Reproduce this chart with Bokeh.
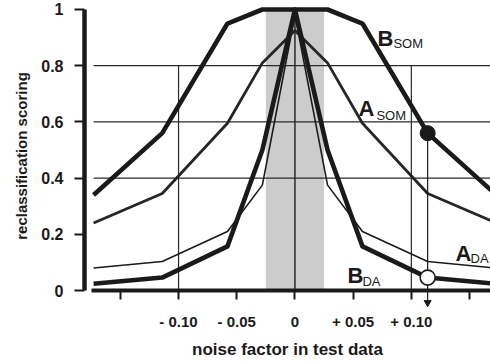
from bokeh.plotting import figure
from bokeh.models import Range1d, FixedTicker, LinearAxis
from bokeh.embed import file_html
from bokeh.resources import INLINE
from bokeh.core.properties import value

# ---- data ----
noise = [-0.173, -0.114, -0.058, -0.028, 0.0, 0.028, 0.058, 0.114, 0.173]
b_som = [0.34, 0.56, 0.95, 1.0, 1.0, 1.0, 0.95, 0.56, 0.34]
a_som = [0.24, 0.345, 0.595, 0.81, 0.925, 0.81, 0.595, 0.345, 0.24]
a_da = [0.08, 0.103, 0.21, 0.375, 0.98, 0.375, 0.21, 0.103, 0.08]
b_da = [0.024, 0.046, 0.157, 0.5, 1.0, 0.5, 0.157, 0.046, 0.024]

test_index = 7  # highlighted test point (noise = +0.114)

x_ticks = [-0.15, -0.10, -0.05, 0.0, 0.05, 0.10, 0.15]
x_tick_labels = ["", "- 0.10", "- 0.05", "0", "+ 0.05", "+ 0.10", ""]
y_ticks = [0.0, 0.2, 0.4, 0.6, 0.8, 1.0]
y_tick_labels = ["0", "0.2", "0.4", "0.6", "0.8", "1"]

hgrid_y = [0.4, 0.6, 0.8]
vgrid_x = [-0.10, 0.10]
vgrid_top = 0.8
band = (-0.025, 0.025)

INK = "#1a1a1a"
FONT = "Liberation Sans"

p = figure(width=490, height=361,
           x_range=Range1d(-0.1808, 0.1680), y_range=Range1d(-0.0747, 1.032),
           output_backend="svg", toolbar_location=None,
           x_axis_location=None, y_axis_location=None,
           min_border_left=84, min_border_right=0, min_border_top=0, min_border_bottom=50)
p.outline_line_color = None
p.background_fill_color = "white"
p.border_fill_color = "white"
for g in p.grid:
    g.visible = False

# shaded band around zero
p.quad(left=[band[0]], right=[band[1]], bottom=[0], top=[1.0],
       fill_color="#cccccc", line_color=None)

# grid lines
x_left = noise[0]
p.segment(x0=[x_left] * len(hgrid_y), y0=hgrid_y, x1=[0.2] * len(hgrid_y), y1=hgrid_y,
          line_color="#2a2a2a", line_width=1.2)
p.segment(x0=vgrid_x, y0=[0] * len(vgrid_x), x1=vgrid_x, y1=[vgrid_top] * len(vgrid_x),
          line_color="#2a2a2a", line_width=1.2)
p.segment(x0=[0], y0=[0], x1=[0], y1=[1.0], line_color="#2a2a2a", line_width=1.5)

# curves
p.line(noise, a_da, line_width=1.6, line_color=INK, line_join="round")
p.line(noise, a_som, line_width=2.8, line_color="#262626", line_join="round")
p.line(noise, b_som, line_width=4.6, line_color=INK, line_join="round")
p.line(noise, b_da, line_width=4.6, line_color=INK, line_join="round")

# test point marker with arrow to the axis
tx = noise[test_index]
arrow_tip = -0.043
p.segment(x0=[tx], y0=[b_som[test_index]], x1=[tx], y1=[arrow_tip], line_color=INK, line_width=1.2)
p.scatter([tx], [arrow_tip], marker="inverted_triangle", size=7, color=INK)
p.scatter([tx], [b_som[test_index]], size=15, color=INK)
p.scatter([tx], [b_da[test_index]], size=15, fill_color="white", line_color=INK, line_width=1.6)

# series labels (main letter + subscript)
main_labels = {"x": [0.0709, 0.0546, 0.0451, 0.1380], "y": [0.897, 0.648, 0.053, 0.132],
               "t": ["B", "A", "B", "A"]}
sub_labels = {"x": [0.0846, 0.0700, 0.0580, 0.1509], "y": [0.879, 0.623, 0.032, 0.114],
              "t": ["SOM", "SOM", "DA", "DA"]}
p.text(x=main_labels["x"], y=main_labels["y"], text=main_labels["t"],
       text_font=value(FONT), text_font_style="bold", text_font_size="22px",
       text_color=INK, text_baseline="alphabetic", text_align="left")
p.text(x=sub_labels["x"], y=sub_labels["y"], text=sub_labels["t"],
       text_font=value(FONT), text_font_style="normal", text_font_size="13px",
       text_color=INK, text_baseline="alphabetic", text_align="left")

# x axis line + ticks at y = 0
xaxis = LinearAxis(ticker=FixedTicker(ticks=x_ticks),
                   fixed_location=0, bounds=(-0.1745, 0.2),
                   axis_line_width=4, axis_line_color=INK,
                   major_tick_out=9, major_tick_in=0, major_tick_line_width=2,
                   major_tick_line_color=INK, minor_tick_out=0, minor_tick_in=0,
                   major_label_text_alpha=0, major_label_text_font_size="1px")
p.add_layout(xaxis, "below")

# x axis labels + title below the frame
xlab = LinearAxis(ticker=FixedTicker(ticks=x_ticks),
                  major_label_overrides=dict(zip(x_ticks, x_tick_labels)),
                  axis_line_color=None, major_tick_line_color=None,
                  major_tick_out=0, major_tick_in=0, minor_tick_out=0, minor_tick_in=0,
                  major_label_standoff=1,
                  major_label_text_font=FONT, major_label_text_font_style="bold",
                  major_label_text_font_size="15px", major_label_text_color=INK,
                  axis_label="noise factor in test data", axis_label_standoff=7,
                  axis_label_text_font=FONT, axis_label_text_font_style="bold",
                  axis_label_text_font_size="17px", axis_label_text_color=INK)
p.add_layout(xlab, "below")

yaxis = LinearAxis(ticker=FixedTicker(ticks=y_ticks),
                   major_label_overrides=dict(zip(y_ticks, y_tick_labels)),
                   bounds=(0, 1),
                   axis_line_width=4.5, axis_line_color=INK,
                   major_tick_out=10, major_tick_in=0, major_tick_line_width=2,
                   major_tick_line_color=INK, minor_tick_out=0, minor_tick_in=0,
                   major_label_standoff=11,
                   major_label_text_font=FONT, major_label_text_font_style="bold",
                   major_label_text_font_size="16px", major_label_text_color=INK,
                   axis_label="reclassification scoring", axis_label_standoff=8,
                   axis_label_text_font=FONT, axis_label_text_font_style="bold",
                   axis_label_text_font_size="15px", axis_label_text_color=INK)
p.add_layout(yaxis, "left")

open("out.html", "w").write(file_html(p, INLINE))
